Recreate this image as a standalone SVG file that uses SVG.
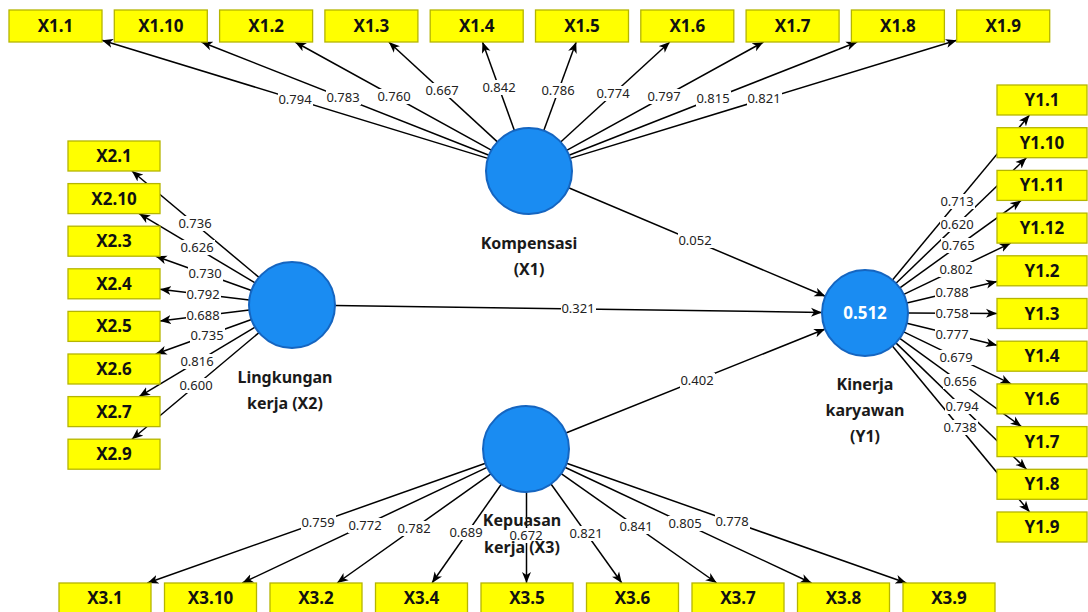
<svg xmlns="http://www.w3.org/2000/svg" width="1088" height="612" viewBox="0 0 1088 612">
<style>
.bx rect{fill:#ffff00;stroke:#b5b500;stroke-width:1.3}
.bt{font-family:"Noto Sans","Open Sans",sans-serif;font-weight:700;font-size:17px;fill:#111;text-anchor:middle}
.e{stroke:#000;stroke-width:1.5;fill:none;marker-end:url(#ah)}
.lb{fill:#fff}
.lt{font-family:"Noto Sans","Open Sans",sans-serif;font-size:13px;fill:#222;text-anchor:middle}
.lv circle{fill:#1a8cf2;stroke:#1565c0;stroke-width:2}
.nt{font-family:"Noto Sans","Open Sans",sans-serif;font-weight:700;font-size:16px;fill:#1a1a1a;text-anchor:middle}
.r2{font-family:"Noto Sans","Open Sans",sans-serif;font-weight:700;font-size:17px;fill:#fff;text-anchor:middle}
</style>
<defs>
<marker id="ah" markerWidth="12" markerHeight="10" refX="11" refY="5" orient="auto" markerUnits="userSpaceOnUse">
<path d="M0,0.5 L11,5 L0,9.5 L3,5 z" fill="#000"/>
</marker>
</defs>
<rect width="1088" height="612" fill="#fff"/>
<g id="connectors">
<line class="e" x1="487.9" y1="158.4" x2="102" y2="40.2"/>
<line class="e" x1="489" y1="155.2" x2="201.4" y2="42"/>
<line class="e" x1="491.3" y1="150.2" x2="295.1" y2="42"/>
<line class="e" x1="497.4" y1="141.9" x2="388.8" y2="42"/>
<line class="e" x1="514.4" y1="130.5" x2="482.5" y2="42"/>
<line class="e" x1="543.8" y1="130.6" x2="576.2" y2="42"/>
<line class="e" x1="560.7" y1="142" x2="669.8" y2="42"/>
<line class="e" x1="566.7" y1="150.3" x2="763.5" y2="42"/>
<line class="e" x1="569" y1="155.3" x2="857.2" y2="42"/>
<line class="e" x1="570.1" y1="158.4" x2="956.7" y2="40.2"/>
<line class="e" x1="259" y1="277.4" x2="131.9" y2="171"/>
<line class="e" x1="255.1" y1="282.9" x2="139.1" y2="213.6"/>
<line class="e" x1="251.5" y1="290.5" x2="155.8" y2="256.2"/>
<line class="e" x1="249.3" y1="299.9" x2="160" y2="289.3"/>
<line class="e" x1="249.3" y1="310.1" x2="160" y2="320.9"/>
<line class="e" x1="251.5" y1="319.5" x2="155.7" y2="354"/>
<line class="e" x1="255.1" y1="327.1" x2="139.1" y2="396.6"/>
<line class="e" x1="259" y1="332.6" x2="131.9" y2="439.2"/>
<line class="e" x1="892.5" y1="279.9" x2="1029.5" y2="115"/>
<line class="e" x1="896" y1="283.2" x2="1026.4" y2="157.7"/>
<line class="e" x1="899.9" y1="287.9" x2="1021.2" y2="200.4"/>
<line class="e" x1="903.8" y1="294.4" x2="1010.7" y2="243.1"/>
<line class="e" x1="906.8" y1="303" x2="997" y2="281.5"/>
<line class="e" x1="908" y1="313" x2="997" y2="313.4"/>
<line class="e" x1="906.8" y1="323.2" x2="997" y2="345.2"/>
<line class="e" x1="903.7" y1="331.8" x2="1011.1" y2="383.9"/>
<line class="e" x1="899.8" y1="338.3" x2="1021.4" y2="426.6"/>
<line class="e" x1="895.9" y1="342.9" x2="1026.5" y2="469.3"/>
<line class="e" x1="892.4" y1="346.1" x2="1029.6" y2="512"/>
<line class="e" x1="485.5" y1="463.3" x2="147.4" y2="583"/>
<line class="e" x1="487.1" y1="467.4" x2="242.3" y2="583"/>
<line class="e" x1="490.9" y1="473.9" x2="337.1" y2="583"/>
<line class="e" x1="501.3" y1="484.2" x2="432" y2="583"/>
<line class="e" x1="526.5" y1="492" x2="526.5" y2="583"/>
<line class="e" x1="551" y1="484" x2="621.8" y2="583"/>
<line class="e" x1="561.2" y1="473.7" x2="716.7" y2="583"/>
<line class="e" x1="564.9" y1="467.3" x2="811.5" y2="583"/>
<line class="e" x1="566.6" y1="463.3" x2="906.4" y2="583"/>
<line class="e" x1="568.6" y1="187.7" x2="825.4" y2="296.3"/>
<line class="e" x1="335" y1="305.6" x2="822" y2="312.4"/>
<line class="e" x1="565.9" y1="433" x2="825.1" y2="329"/>
<g id="edge-labels">
<rect class="lb" x="278" y="92" width="35" height="15"/><text class="lt" x="295" y="104">0.794</text>
<rect class="lb" x="326" y="90" width="35" height="15"/><text class="lt" x="343" y="102">0.783</text>
<rect class="lb" x="377" y="89" width="35" height="15"/><text class="lt" x="394" y="101">0.760</text>
<rect class="lb" x="425" y="83" width="35" height="15"/><text class="lt" x="442" y="95">0.667</text>
<rect class="lb" x="482" y="80" width="35" height="15"/><text class="lt" x="499" y="92">0.842</text>
<rect class="lb" x="541" y="83" width="35" height="15"/><text class="lt" x="558" y="95">0.786</text>
<rect class="lb" x="596" y="86" width="35" height="15"/><text class="lt" x="613" y="98">0.774</text>
<rect class="lb" x="647" y="89" width="35" height="15"/><text class="lt" x="664" y="101">0.797</text>
<rect class="lb" x="696" y="91" width="35" height="15"/><text class="lt" x="713" y="103">0.815</text>
<rect class="lb" x="747" y="91" width="35" height="15"/><text class="lt" x="764" y="103">0.821</text>
<rect class="lb" x="178" y="216" width="35" height="15"/><text class="lt" x="195" y="228">0.736</text>
<rect class="lb" x="180" y="240" width="35" height="15"/><text class="lt" x="197" y="252">0.626</text>
<rect class="lb" x="188" y="266" width="35" height="15"/><text class="lt" x="205" y="278">0.730</text>
<rect class="lb" x="186" y="287" width="35" height="15"/><text class="lt" x="203" y="299">0.792</text>
<rect class="lb" x="186" y="308" width="35" height="15"/><text class="lt" x="203" y="320">0.688</text>
<rect class="lb" x="190" y="328" width="35" height="15"/><text class="lt" x="207" y="340">0.735</text>
<rect class="lb" x="180" y="354" width="35" height="15"/><text class="lt" x="197" y="366">0.816</text>
<rect class="lb" x="179" y="378" width="35" height="15"/><text class="lt" x="196" y="390">0.600</text>
<rect class="lb" x="940" y="194" width="35" height="15"/><text class="lt" x="957" y="206">0.713</text>
<rect class="lb" x="940" y="217" width="35" height="15"/><text class="lt" x="957" y="229">0.620</text>
<rect class="lb" x="941" y="238" width="35" height="15"/><text class="lt" x="958" y="250">0.765</text>
<rect class="lb" x="939" y="262" width="35" height="15"/><text class="lt" x="956" y="274">0.802</text>
<rect class="lb" x="935" y="285" width="35" height="15"/><text class="lt" x="952" y="297">0.788</text>
<rect class="lb" x="935" y="306" width="35" height="15"/><text class="lt" x="952" y="318">0.758</text>
<rect class="lb" x="935" y="327" width="35" height="15"/><text class="lt" x="952" y="339">0.777</text>
<rect class="lb" x="939" y="350" width="35" height="15"/><text class="lt" x="956" y="362">0.679</text>
<rect class="lb" x="943" y="374" width="35" height="15"/><text class="lt" x="960" y="386">0.656</text>
<rect class="lb" x="945" y="399" width="35" height="15"/><text class="lt" x="962" y="411">0.794</text>
<rect class="lb" x="943" y="420" width="35" height="15"/><text class="lt" x="960" y="432">0.738</text>
<rect class="lb" x="301" y="515" width="35" height="15"/><text class="lt" x="318" y="527">0.759</text>
<rect class="lb" x="348" y="518" width="35" height="15"/><text class="lt" x="365" y="530">0.772</text>
<rect class="lb" x="397" y="521" width="35" height="15"/><text class="lt" x="414" y="533">0.782</text>
<rect class="lb" x="449" y="525" width="35" height="15"/><text class="lt" x="466" y="537">0.689</text>
<rect class="lb" x="509" y="528" width="35" height="15"/><text class="lt" x="526" y="540">0.672</text>
<rect class="lb" x="569" y="526" width="35" height="15"/><text class="lt" x="586" y="538">0.821</text>
<rect class="lb" x="619" y="519" width="35" height="15"/><text class="lt" x="636" y="531">0.841</text>
<rect class="lb" x="668" y="516" width="35" height="15"/><text class="lt" x="685" y="528">0.805</text>
<rect class="lb" x="715" y="514" width="35" height="15"/><text class="lt" x="732" y="526">0.778</text>
<rect class="lb" x="678" y="233" width="35" height="15"/><text class="lt" x="695" y="245">0.052</text>
<rect class="lb" x="561" y="301" width="35" height="15"/><text class="lt" x="578" y="313">0.321</text>
<rect class="lb" x="680" y="373" width="35" height="15"/><text class="lt" x="697" y="385">0.402</text>
</g>
</g>
<g id="X1" class="lv"><circle cx="529" cy="171" r="43"/><text class="nt" x="529" y="249">Kompensasi</text><text class="nt" x="529" y="275">(X1)</text></g>
<g id="X2" class="lv"><circle cx="292" cy="305" r="43"/><text class="nt" x="285" y="383">Lingkungan</text><text class="nt" x="285" y="409">kerja (X2)</text></g>
<g id="X3" class="lv"><circle cx="526" cy="449" r="43"/><text class="nt" x="522" y="526">Kepuasan</text><text class="nt" x="522" y="553">kerja (X3)</text></g>
<g id="Y1" class="lv"><circle cx="865" cy="313" r="43"/><text class="r2" x="865" y="319">0.512</text><text class="nt" x="865" y="390">Kinerja</text><text class="nt" x="865" y="416">karyawan</text><text class="nt" x="865" y="442">(Y1)</text></g>
<g id="X1.1" class="bx"><rect x="9" y="10" width="93" height="32"/><text class="bt" x="55.5" y="32">X1.1</text></g>
<g id="X1.10" class="bx"><rect x="114.3" y="10" width="93" height="32"/><text class="bt" x="160.8" y="32">X1.10</text></g>
<g id="X1.2" class="bx"><rect x="219.6" y="10" width="93" height="32"/><text class="bt" x="266.1" y="32">X1.2</text></g>
<g id="X1.3" class="bx"><rect x="324.9" y="10" width="93" height="32"/><text class="bt" x="371.4" y="32">X1.3</text></g>
<g id="X1.4" class="bx"><rect x="430.2" y="10" width="93" height="32"/><text class="bt" x="476.7" y="32">X1.4</text></g>
<g id="X1.5" class="bx"><rect x="535.5" y="10" width="93" height="32"/><text class="bt" x="582" y="32">X1.5</text></g>
<g id="X1.6" class="bx"><rect x="640.8" y="10" width="93" height="32"/><text class="bt" x="687.3" y="32">X1.6</text></g>
<g id="X1.7" class="bx"><rect x="746.1" y="10" width="93" height="32"/><text class="bt" x="792.6" y="32">X1.7</text></g>
<g id="X1.8" class="bx"><rect x="851.4" y="10" width="93" height="32"/><text class="bt" x="897.9" y="32">X1.8</text></g>
<g id="X1.9" class="bx"><rect x="956.7" y="10" width="93" height="32"/><text class="bt" x="1003.2" y="32">X1.9</text></g>
<g id="X2.1" class="bx"><rect x="68" y="141" width="92" height="30"/><text class="bt" x="114" y="162">X2.1</text></g>
<g id="X2.10" class="bx"><rect x="68" y="183.6" width="92" height="30"/><text class="bt" x="114" y="204.6">X2.10</text></g>
<g id="X2.3" class="bx"><rect x="68" y="226.2" width="92" height="30"/><text class="bt" x="114" y="247.2">X2.3</text></g>
<g id="X2.4" class="bx"><rect x="68" y="268.8" width="92" height="30"/><text class="bt" x="114" y="289.8">X2.4</text></g>
<g id="X2.5" class="bx"><rect x="68" y="311.4" width="92" height="30"/><text class="bt" x="114" y="332.4">X2.5</text></g>
<g id="X2.6" class="bx"><rect x="68" y="354" width="92" height="30"/><text class="bt" x="114" y="375">X2.6</text></g>
<g id="X2.7" class="bx"><rect x="68" y="396.6" width="92" height="30"/><text class="bt" x="114" y="417.6">X2.7</text></g>
<g id="X2.9" class="bx"><rect x="68" y="439.2" width="92" height="30"/><text class="bt" x="114" y="460.2">X2.9</text></g>
<g id="Y1.1" class="bx"><rect x="997" y="85" width="90" height="30"/><text class="bt" x="1042" y="106">Y1.1</text></g>
<g id="Y1.10" class="bx"><rect x="997" y="127.7" width="90" height="30"/><text class="bt" x="1042" y="148.7">Y1.10</text></g>
<g id="Y1.11" class="bx"><rect x="997" y="170.4" width="90" height="30"/><text class="bt" x="1042" y="191.4">Y1.11</text></g>
<g id="Y1.12" class="bx"><rect x="997" y="213.1" width="90" height="30"/><text class="bt" x="1042" y="234.1">Y1.12</text></g>
<g id="Y1.2" class="bx"><rect x="997" y="255.8" width="90" height="30"/><text class="bt" x="1042" y="276.8">Y1.2</text></g>
<g id="Y1.3" class="bx"><rect x="997" y="298.5" width="90" height="30"/><text class="bt" x="1042" y="319.5">Y1.3</text></g>
<g id="Y1.4" class="bx"><rect x="997" y="341.2" width="90" height="30"/><text class="bt" x="1042" y="362.2">Y1.4</text></g>
<g id="Y1.6" class="bx"><rect x="997" y="383.9" width="90" height="30"/><text class="bt" x="1042" y="404.9">Y1.6</text></g>
<g id="Y1.7" class="bx"><rect x="997" y="426.6" width="90" height="30"/><text class="bt" x="1042" y="447.6">Y1.7</text></g>
<g id="Y1.8" class="bx"><rect x="997" y="469.3" width="90" height="30"/><text class="bt" x="1042" y="490.3">Y1.8</text></g>
<g id="Y1.9" class="bx"><rect x="997" y="512" width="90" height="30"/><text class="bt" x="1042" y="533">Y1.9</text></g>
<g id="X3.1" class="bx"><rect x="59" y="583" width="92" height="30"/><text class="bt" x="105" y="604">X3.1</text></g>
<g id="X3.10" class="bx"><rect x="164.5" y="583" width="92" height="30"/><text class="bt" x="210.5" y="604">X3.10</text></g>
<g id="X3.2" class="bx"><rect x="270" y="583" width="92" height="30"/><text class="bt" x="316" y="604">X3.2</text></g>
<g id="X3.4" class="bx"><rect x="375.5" y="583" width="92" height="30"/><text class="bt" x="421.5" y="604">X3.4</text></g>
<g id="X3.5" class="bx"><rect x="481" y="583" width="92" height="30"/><text class="bt" x="527" y="604">X3.5</text></g>
<g id="X3.6" class="bx"><rect x="586.5" y="583" width="92" height="30"/><text class="bt" x="632.5" y="604">X3.6</text></g>
<g id="X3.7" class="bx"><rect x="692" y="583" width="92" height="30"/><text class="bt" x="738" y="604">X3.7</text></g>
<g id="X3.8" class="bx"><rect x="797.5" y="583" width="92" height="30"/><text class="bt" x="843.5" y="604">X3.8</text></g>
<g id="X3.9" class="bx"><rect x="903" y="583" width="92" height="30"/><text class="bt" x="949" y="604">X3.9</text></g>
</svg>
